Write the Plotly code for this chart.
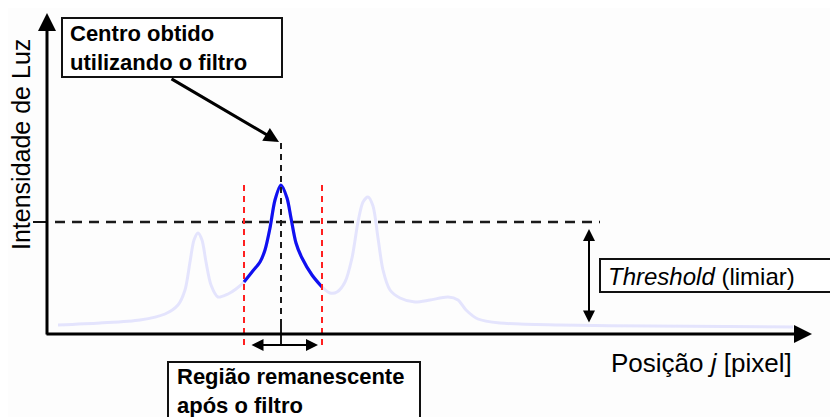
import plotly.graph_objects as go

# light intensity profile along pixel position j (arbitrary units)
pos_j = [11, 53, 93, 118, 131, 138, 143, 147, 151, 155, 159, 164, 171, 181, 189, 197,
         205, 213, 218, 223, 228, 234, 240, 244, 249, 255, 265, 275,
         283, 290, 298, 305, 311, 316, 321, 326, 331, 336, 343, 353, 368, 383, 401,
         411, 419, 431, 453, 513, 603, 746]
intensity = [9, 11, 14, 20, 29, 44, 72, 94, 101, 94, 72, 49, 37, 40, 45, 52,
             62, 72, 84, 106, 134, 149, 136, 116, 91, 76, 59, 47,
             41, 42, 52, 76, 112, 132, 137, 128, 96, 64, 44, 36, 32, 34, 37,
             34, 24, 15, 11, 9, 8, 7]

# part of the profile kept by the filter
win_lo = 197
win_hi = 275
center_j = 234
threshold = 112

kept_j = [j for j in pos_j if win_lo <= j <= win_hi]
kept_i = [v for j, v in zip(pos_j, intensity) if win_lo <= j <= win_hi]

FONT = "Liberation Sans, Arial, sans-serif"
PAGE_OFFSET = 8  # the html body margin


def X(px):
    return px - 47


def Y(py):
    return 334 - py


fig = go.Figure()
fig.add_trace(go.Scatter(x=pos_j, y=intensity, mode="lines",
                         line=dict(color="#e4e4fd", width=3, shape="spline", smoothing=0.8),
                         hoverinfo="skip"))
fig.add_trace(go.Scatter(x=kept_j, y=kept_i, mode="lines",
                         line=dict(color="#1010f0", width=3.2, shape="spline", smoothing=0.8),
                         hoverinfo="skip"))

shapes = [
    # threshold line + tick
    dict(type="line", x0=X(55), x1=X(600), y0=threshold, y1=threshold,
         line=dict(color="#1a1a1a", width=2.5, dash="10px,7px")),
    dict(type="line", x0=X(33), x1=X(47), y0=threshold, y1=threshold,
         line=dict(color="#111", width=2)),
    # filter window edges
    dict(type="line", x0=win_lo, x1=win_lo, y0=Y(345), y1=Y(183),
         line=dict(color="#ff2020", width=2, dash="6px,5px")),
    dict(type="line", x0=win_hi, x1=win_hi, y0=Y(345), y1=Y(183),
         line=dict(color="#ff2020", width=2, dash="6px,5px")),
    # center line
    dict(type="line", x0=center_j, x1=center_j, y0=Y(325), y1=Y(143),
         line=dict(color="#1a1a1a", width=2, dash="6px,5px")),
    dict(type="line", x0=center_j, x1=center_j, y0=Y(345), y1=Y(325),
         line=dict(color="#1a1a1a", width=2)),
    # boxes
    dict(type="rect", x0=X(62), x1=X(282), y0=Y(18), y1=Y(77),
         line=dict(color="#111", width=2), fillcolor="white"),
    dict(type="rect", x0=X(168), x1=X(420), y0=Y(362), y1=Y(430),
         line=dict(color="#111", width=2), fillcolor="white"),
    dict(type="rect", x0=X(600), x1=X(850), y0=Y(259), y1=Y(292),
         line=dict(color="#111", width=2), fillcolor="white"),
]

arrow = dict(xref="x", yref="y", axref="x", ayref="y", text="", showarrow=True,
             arrowcolor="#000", arrowhead=2)
annotations = [
    # axes
    dict(arrow, x=X(47), y=Y(13), ax=X(47), ay=Y(336), arrowwidth=3, arrowsize=1.2),
    dict(arrow, x=X(812), y=Y(334), ax=X(45), ay=Y(334), arrowwidth=3, arrowsize=1.2),
    # pointer to center
    dict(arrow, x=X(279), y=Y(142), ax=X(170), ay=Y(78), arrowwidth=3, arrowsize=1.0),
    # window width
    dict(arrow, x=X(318), y=Y(345), ax=X(250), ay=Y(345), arrowwidth=2,
         arrowsize=1.2, arrowside="end+start"),
    # threshold height
    dict(arrow, x=X(589), y=Y(229), ax=X(589), ay=Y(324), arrowwidth=2,
         arrowsize=1.2, arrowside="end+start"),
    # texts
    dict(xref="x", yref="y", x=X(68), y=Y(19), xanchor="left", yanchor="top",
         text="<b>Centro obtido<br>utilizando o filtro</b>", showarrow=False, align="left",
         font=dict(family=FONT, size=22, color="#000")),
    dict(xref="x", yref="y", x=X(175), y=Y(362), xanchor="left", yanchor="top",
         text="<b>Região remanescente<br>após o filtro</b>", showarrow=False, align="left",
         font=dict(family=FONT, size=22, color="#000")),
    dict(xref="x", yref="y", x=X(606), y=Y(276), xanchor="left", yanchor="middle",
         text="<i>Threshold</i> (limiar)", showarrow=False,
         font=dict(family=FONT, size=24, color="#000")),
    dict(xref="x", yref="y", x=X(794), y=Y(363), xanchor="right", yanchor="middle",
         text="Posição <i>j</i> [pixel]", showarrow=False,
         font=dict(family=FONT, size=26, color="#000")),
    dict(xref="x", yref="y", x=X(21), y=Y(145), xanchor="center", yanchor="middle",
         text="Intensidade de Luz", showarrow=False, textangle=-90,
         font=dict(family=FONT, size=25, color="#000")),
]

fig.update_layout(
    width=838, height=417,
    margin=dict(l=0, r=0, t=0, b=0),
    paper_bgcolor="#fdfdfd", plot_bgcolor="#fdfdfd",
    showlegend=False,
    shapes=shapes, annotations=annotations,
    xaxis=dict(range=[X(PAGE_OFFSET), X(838 + PAGE_OFFSET)], visible=False, fixedrange=True),
    yaxis=dict(range=[Y(417 + PAGE_OFFSET), Y(PAGE_OFFSET)], visible=False, fixedrange=True),
)

fig.write_html("out.html")
